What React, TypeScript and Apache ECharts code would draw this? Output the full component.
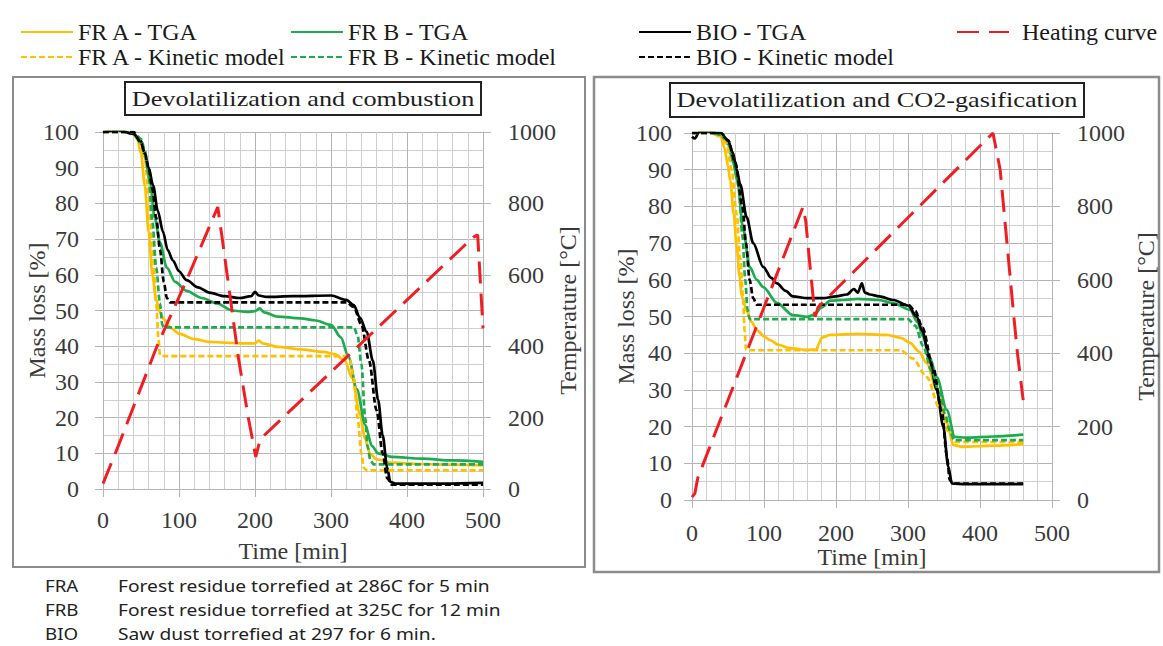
import React, { useEffect, useRef } from "react";
import * as echarts from "echarts";

const W = 1163;
const H = 646;
const SERIF = "Liberation Serif";

// ---------- Left panel: Devolatilization and combustion ----------
const combFRA_TGA: [number, number][] = [
  [0, 100], [20, 100.3], [40, 99.5], [45, 98], [50, 94], [55, 85], [60, 72], [65, 60], [70, 53], [75, 49.5],
  [80, 47.5], [90, 45], [100, 43.5], [120, 42], [140, 41.2], [160, 41], [180, 40.8], [200, 40.8], [205, 41.6],
  [210, 40.8], [230, 39.8], [260, 39.1], [290, 38.4], [305, 37.8], [318, 36], [328, 31], [338, 21], [345, 14],
  [351, 10], [360, 8.3], [380, 7.4], [420, 7], [460, 6.8], [500, 6.6],
];
const combFRA_Kin: [number, number][] = [
  [0, 100], [40, 100], [50, 98], [55, 93], [60, 82], [65, 68], [70, 52], [73, 42], [75, 37.5], [78, 37.2],
  [320, 37.2], [325, 36], [330, 31], [335, 20], [340, 10], [343, 6], [347, 5.2], [500, 5.2],
];
const combFRB_TGA: [number, number][] = [
  [0, 100], [20, 100.5], [40, 99.5], [50, 97], [55, 93], [62, 86], [68, 76], [75, 69], [84, 62], [95, 58],
  [110, 55.5], [130, 53.5], [150, 52], [170, 50], [190, 49.6], [200, 49.8], [206, 50.6], [212, 49.5],
  [230, 48.3], [260, 47.8], [280, 47.2], [300, 46], [313, 42.5], [323, 37], [334, 28], [345, 18], [354, 12],
  [362, 10], [380, 9], [420, 8.5], [460, 8], [500, 7.6],
];
const combFRB_Kin: [number, number][] = [
  [0, 100], [40, 100], [50, 98], [55, 95], [60, 88], [65, 75], [70, 62], [75, 52], [78, 46], [80, 45.3],
  [330, 45.3], [335, 43], [340, 35], [345, 20], [348, 12], [352, 8], [356, 6.9], [500, 6.9],
];
const combBIO_TGA: [number, number][] = [
  [0, 100], [20, 100.5], [40, 99.5], [50, 97.5], [55, 94], [60, 90], [66, 85], [72, 78], [79, 72], [85, 67],
  [92, 64], [100, 61], [110, 58.5], [125, 56.5], [140, 55], [160, 54], [180, 53.5], [195, 54], [200, 55.2],
  [205, 54.2], [215, 53.8], [250, 54], [300, 54.2], [320, 53], [330, 51.5], [338, 48], [347, 44], [355, 36],
  [362, 25], [368, 15], [374, 6], [378, 2], [385, 1.5], [450, 1.5], [500, 1.7],
];
const combBIO_Kin: [number, number][] = [
  [0, 100], [40, 100], [50, 97], [55, 94], [60, 90], [65, 84], [70, 76], [75, 67], [80, 58], [84, 53.5],
  [88, 52.3], [320, 52.3], [330, 51], [340, 46], [350, 36], [360, 22], [368, 10], [374, 3], [380, 1.2], [500, 1.2],
];
const combHeating: [number, number][] = [
  [0, 15], [20, 120], [71, 400], [110, 585], [151, 790], [157, 700], [178, 370], [191, 202], [201, 90],
  [207, 140], [487, 705], [493, 712], [500, 450],
];

// ---------- Right panel: Devolatilization and CO2-gasification ----------
const gasFRA_TGA: [number, number][] = [
  [0, 100], [20, 100.5], [40, 99], [45, 96], [50, 91], [53, 87], [58, 78], [62, 69], [66, 61], [69, 55.5],
  [76, 51.5], [83, 48.5], [90, 46.3], [100, 44.6], [108, 43.6], [120, 42.3], [136, 41.4], [160, 40.9],
  [173, 41], [176, 42.5], [180, 44.2], [192, 45], [230, 45.3], [270, 45], [290, 44.2], [303, 42.8],
  [315, 40.5], [326, 37.3], [340, 30], [354, 21], [363, 15], [375, 14.5], [420, 14.8], [460, 15.2],
];
const gasFRA_Kin: [number, number][] = [
  [0, 100], [40, 100], [48, 97], [55, 90], [62, 78], [67, 66], [71, 55], [73, 46], [75, 41], [78, 40.8],
  [290, 40.8], [307, 38.5], [326, 33.5], [344, 25], [358, 18], [366, 15.8], [460, 15.8],
];
const gasFRB_TGA: [number, number][] = [
  [0, 100.5], [20, 100.5], [40, 99.5], [50, 97], [57, 92], [63, 87], [71, 74], [80, 63.5], [90, 60], [99, 58],
  [118, 53.7], [140, 50.4], [160, 49.9], [170, 50.5], [180, 52.5], [192, 54.3], [210, 54.5], [230, 54.8],
  [260, 54.5], [280, 53.6], [303, 51.8], [313, 48.5], [321, 44.5], [330, 39], [340, 33.5], [354, 24.5],
  [365, 17.2], [380, 17], [418, 17.3], [460, 17.8],
];
const gasFRB_Kin: [number, number][] = [
  [0, 100], [40, 100], [50, 98], [60, 92], [65, 85], [70, 72], [74, 60], [77, 52], [80, 49.3], [300, 49.3],
  [310, 47.5], [321, 42], [333, 35], [344, 29], [352, 23], [358, 19], [364, 16.3], [460, 16.3],
];
const gasBIO_TGA: [number, number][] = [
  [0, 99], [4, 98.5], [10, 100.3], [20, 100.5], [40, 100], [50, 98], [57, 94.5], [62, 90], [67, 86], [76, 77],
  [85, 70], [99, 63.5], [110, 60.5], [118, 59], [130, 57], [140, 55.5], [160, 55], [182, 55], [200, 55.5],
  [215, 56], [225, 57.5], [230, 56.5], [236, 59], [240, 56.5], [247, 56], [260, 55.5], [280, 54.5], [300, 53],
  [312, 50], [320, 46], [330, 38], [340, 30], [349, 20], [356, 9], [361, 4.5], [380, 4.3], [420, 4.3], [460, 4.3],
];
const gasBIO_Kin: [number, number][] = [
  [0, 100], [40, 100], [50, 98], [60, 92], [70, 80], [75, 70], [80, 60], [85, 55], [90, 53.2], [300, 53.2],
  [310, 51.5], [320, 47], [335, 36], [347, 24], [354, 12], [358, 5.5], [362, 4.5], [460, 4.5],
];
const gasHeating: [number, number][] = [
  [0, 8], [4, 18], [8, 60], [154, 798], [158, 760], [164, 635], [171, 499], [175, 525], [418, 1000],
  [428, 900], [437, 710], [446, 520], [452, 400], [460, 272],
];

const NAMES = {
  aT: "FR A - TGA",
  aK: "FR A - Kinetic model",
  bT: "FR B - TGA",
  bK: "FR B - Kinetic model",
  cT: "BIO - TGA",
  cK: "BIO - Kinetic model",
  h: "Heating curve",
};
const YELLOW = "#FFC000";
const GREEN = "#1EAA4E";
const BLACK = "#000000";
const RED = "#F01E23";

const footAbbr = ["FRA", "FRB", "BIO"];
const footText = [
  "Forest residue torrefied at 286C for 5 min",
  "Forest residue torrefied at 325C for 12 min",
  "Saw dust torrefied at 297 for 6 min.",
];

const GRID_C = "#b4b4b4";
const MINOR_C = "#cfcfcf";
const LABEL_C = "#3a3a3a";
const FS = 24;
const tickLabel = (margin: number) => ({
  margin,
  fontFamily: SERIF,
  fontSize: FS,
  color: LABEL_C,
  formatter: (v: number) => String(v),
});

function xAx(gridIndex: number, margin: number, nameGap: number) {
  return {
    type: "value",
    gridIndex,
    min: 0,
    max: 500,
    interval: 100,
    name: "Time [min]",
    nameLocation: "middle",
    nameGap,
    nameMoveOverlap: false,
    nameTextStyle: { fontFamily: SERIF, fontSize: FS, color: LABEL_C },
    axisLine: { show: true, lineStyle: { color: GRID_C, width: 1 } },
    axisTick: { show: true, length: 8, lineStyle: { color: GRID_C } },
    axisLabel: tickLabel(margin),
    splitLine: { show: true, lineStyle: { color: GRID_C } },
    minorTick: { show: false, splitNumber: 5 },
    minorSplitLine: { show: true, lineStyle: { color: MINOR_C } },
  };
}
function yLeft(gridIndex: number, margin: number, nameGap: number) {
  return {
    type: "value",
    gridIndex,
    position: "left",
    min: 0,
    max: 100,
    interval: 10,
    name: "Mass loss [%]",
    nameLocation: "middle",
    nameGap,
    nameRotate: 90,
    nameMoveOverlap: false,
    nameTextStyle: { fontFamily: SERIF, fontSize: FS, color: LABEL_C },
    axisLine: { show: true, lineStyle: { color: GRID_C } },
    axisTick: { show: true, length: 8, lineStyle: { color: GRID_C } },
    axisLabel: tickLabel(margin),
    splitLine: { show: true, lineStyle: { color: GRID_C } },
    minorTick: { show: false, splitNumber: 2 },
    minorSplitLine: { show: true, lineStyle: { color: MINOR_C } },
  };
}
function yRight(gridIndex: number, margin: number, nameGap: number) {
  return {
    type: "value",
    gridIndex,
    position: "right",
    min: 0,
    max: 1000,
    interval: 200,
    name: "Temperature [°C]",
    nameLocation: "middle",
    nameGap,
    nameRotate: 90,
    nameMoveOverlap: false,
    nameTextStyle: { fontFamily: SERIF, fontSize: FS, color: LABEL_C },
    axisLine: { show: true, lineStyle: { color: GRID_C } },
    axisTick: { show: true, length: 8, lineStyle: { color: GRID_C } },
    axisLabel: tickLabel(margin),
    splitLine: { show: false },
  };
}

function ln(name: string, data: [number, number][], color: string, kind: "solid" | "kin" | "heat", xi: number, yi: number) {
  return {
    type: "line",
    name,
    data,
    xAxisIndex: xi,
    yAxisIndex: yi,
    symbol: "none",
    showSymbol: false,
    smooth: kind === "heat" ? false : 0.3,
    smoothMonotone: "x",
    z: kind === "heat" ? 4 : kind === "kin" ? 3 : 2,
    lineStyle: {
      color,
      width: kind === "heat" ? 3 : 2.7,
      type: kind === "solid" ? "solid" : kind === "kin" ? [6, 3] : [22, 10],
    },
    itemStyle: { color },
    emphasis: { disabled: true },
  };
}

function legendItem(name: string, left: number, centerY: number, extraPad = 0) {
  return {
    data: [name],
    left,
    top: centerY - 12,
    padding: 0,
    itemWidth: 52,
    itemHeight: 24,
    itemGap: 0,
    selectedMode: false,
    itemStyle: { opacity: 0, borderWidth: 0 },
    textStyle: {
      fontFamily: SERIF,
      fontSize: 24,
      lineHeight: 24,
      color: "#1a1a1a",
      padding: [0, 0, 0, extraPad],
    },
  };
}

export default function App() {
  const ref = useRef<HTMLDivElement>(null);
  useEffect(() => {
    if (!ref.current) return;
    const chart = echarts.init(ref.current, null, { renderer: "svg" });
    const option: any = {
      animation: false,
      backgroundColor: "#ffffff",
      textStyle: { fontFamily: SERIF },
      legend: [
        legendItem(NAMES.aT, 20, 32),
        legendItem(NAMES.aK, 20, 57),
        legendItem(NAMES.bT, 290, 32),
        legendItem(NAMES.bK, 290, 57),
        legendItem(NAMES.cT, 638, 32),
        legendItem(NAMES.cK, 638, 57),
        legendItem(NAMES.h, 956, 32, 8),
      ],
      grid: [
        { left: 103, top: 132, width: 380, height: 357 },
        { left: 692, top: 133, width: 360, height: 367 },
      ],
      xAxis: [xAx(0, 19, 50), xAx(1, 21, 45)],
      yAxis: [yLeft(0, 24, 54), yRight(0, 25, 73), yLeft(1, 20, 54), yRight(1, 25, 82)],
      series: [
        ln(NAMES.aT, combFRA_TGA, YELLOW, "solid", 0, 0),
        ln(NAMES.bT, combFRB_TGA, GREEN, "solid", 0, 0),
        ln(NAMES.cT, combBIO_TGA, BLACK, "solid", 0, 0),
        ln(NAMES.aK, combFRA_Kin, YELLOW, "kin", 0, 0),
        ln(NAMES.bK, combFRB_Kin, GREEN, "kin", 0, 0),
        ln(NAMES.cK, combBIO_Kin, BLACK, "kin", 0, 0),
        ln(NAMES.h, combHeating, RED, "heat", 0, 1),
        ln(NAMES.aT, gasFRA_TGA, YELLOW, "solid", 1, 2),
        ln(NAMES.bT, gasFRB_TGA, GREEN, "solid", 1, 2),
        ln(NAMES.cT, gasBIO_TGA, BLACK, "solid", 1, 2),
        ln(NAMES.aK, gasFRA_Kin, YELLOW, "kin", 1, 2),
        ln(NAMES.bK, gasFRB_Kin, GREEN, "kin", 1, 2),
        ln(NAMES.cK, gasBIO_Kin, BLACK, "kin", 1, 2),
        ln(NAMES.h, gasHeating, RED, "heat", 1, 3),
      ],
      graphic: [
        {
          type: "rect",
          shape: { x: 13, y: 77, width: 572, height: 490 },
          style: { fill: "none", stroke: "#8c8c8c", lineWidth: 2 },
          z: -1,
        },
        {
          type: "rect",
          shape: { x: 594, y: 77, width: 565, height: 495 },
          style: { fill: "none", stroke: "#8c8c8c", lineWidth: 2.5 },
          z: -1,
        },
        {
          type: "rect",
          shape: { x: 125, y: 82, width: 356, height: 33 },
          style: { fill: "#ffffff", stroke: "#222", lineWidth: 2 },
          z: 10,
        },
        {
          type: "text",
          x: 303,
          y: 99,
          scaleX: 1.25,
          z: 11,
          style: {
            text: "Devolatilization and combustion",
            font: `21px "${SERIF}"`,
            fill: "#1e1e1e",
            align: "center",
            verticalAlign: "middle",
          },
        },
        {
          type: "rect",
          shape: { x: 670, y: 83, width: 414, height: 34 },
          style: { fill: "#ffffff", stroke: "#222", lineWidth: 2 },
          z: 10,
        },
        {
          type: "text",
          x: 877,
          y: 100,
          scaleX: 1.25,
          z: 11,
          style: {
            text: "Devolatilization and CO2-gasification",
            font: `21px "${SERIF}"`,
            fill: "#1e1e1e",
            align: "center",
            verticalAlign: "middle",
          },
        },
        ...footAbbr.map((t, i) => ({
          type: "text",
          x: 45,
          y: 585 + i * 24,
          scaleX: 1.1,
          style: { text: t, font: '17px "Noto Sans"', fill: "#222", verticalAlign: "middle" },
        })),
        ...footText.map((t, i) => ({
          type: "text",
          x: 118,
          y: 585 + i * 24,
          scaleX: 1.13,
          style: { text: t, font: '17px "Noto Sans"', fill: "#222", verticalAlign: "middle" },
        })),
      ],
    };
    chart.setOption(option);
    return () => chart.dispose();
  }, []);
  return <div ref={ref} style={{ position: "absolute", left: 0, top: 0, width: W, height: H }} />;
}
